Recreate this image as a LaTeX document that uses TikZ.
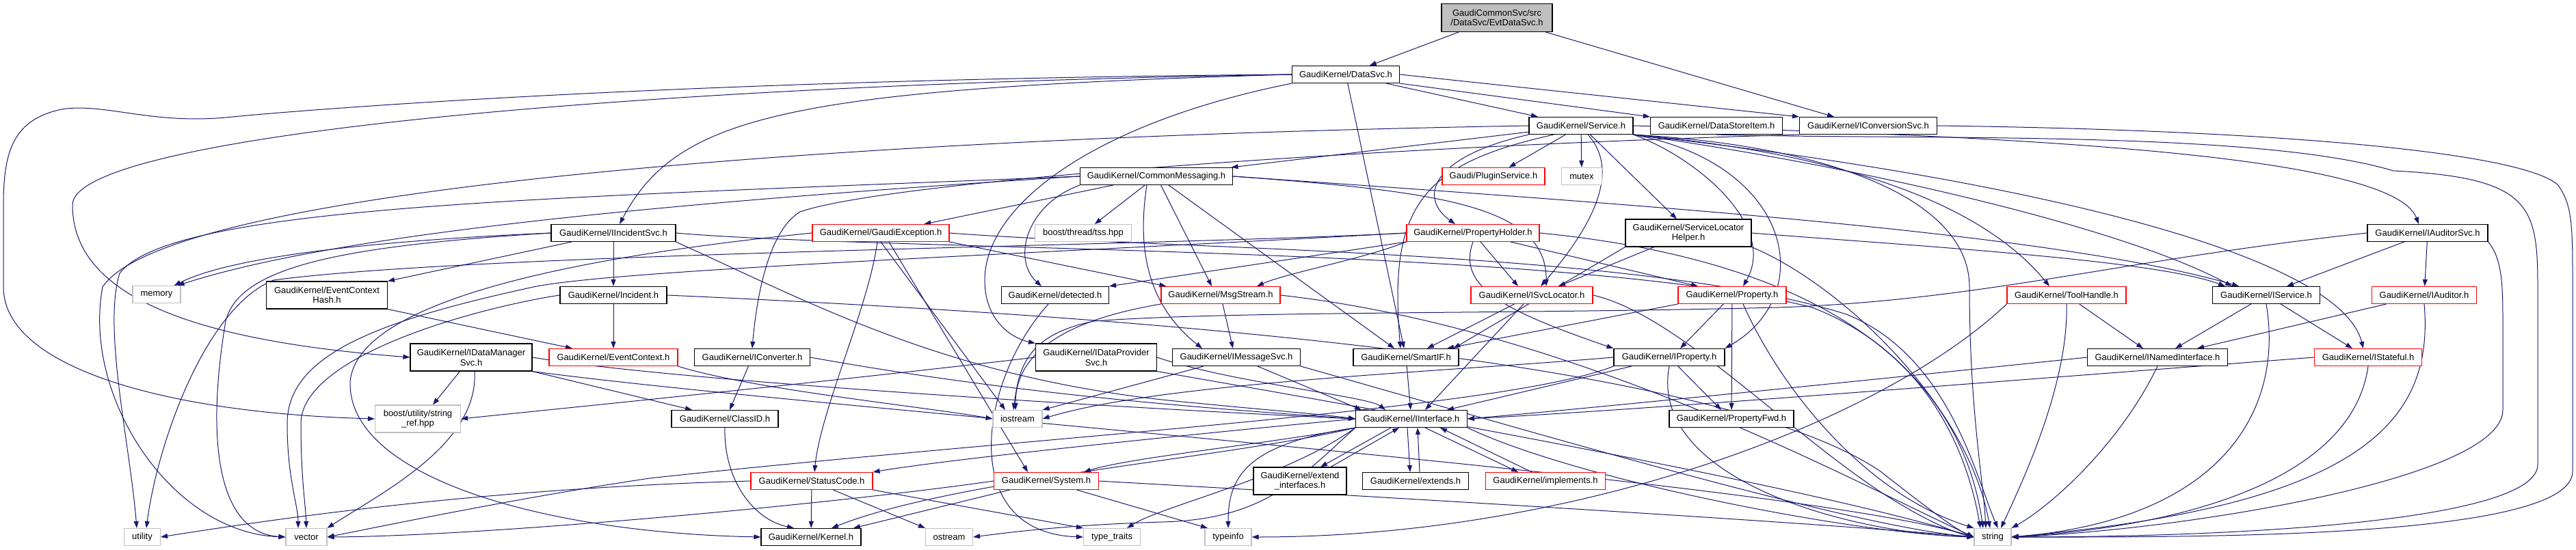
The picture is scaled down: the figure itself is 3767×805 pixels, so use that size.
\documentclass[tikz,border=0pt]{standalone}
\usepackage{fontspec}
\setmainfont{Liberation Sans}
\usetikzlibrary{arrows.meta}
\pgfdeclarelayer{bg}
\pgfsetlayers{bg,main}
\definecolor{edgec}{HTML}{191970}
\definecolor{grayb}{HTML}{BFBFBF}
\definecolor{redb}{HTML}{FF0000}
\begin{document}
\begin{tikzpicture}[x=1pt,y=-1pt,
 box/.style={draw=black, line width=1.1pt, fill=white, inner xsep=3pt, inner ysep=2pt, minimum height=25pt, align=center, font=\fontsize{13}{14.7}\selectfont},
 rbox/.style={box, draw=redb},
 gbox/.style={box, draw=grayb},
 tall/.style={minimum height=40pt},
 lnk/.style={draw=edgec, line width=1pt, -{Triangle[length=10pt,width=7pt]}},
]
\useasboundingbox (0,0) rectangle (3767,805);
% nodes
\node[box, fill=grayb, minimum width=162pt, minimum height=41pt] (evt) at (2189,26) {GaudiCommonSvc/src\\/DataSvc/EvtDataSvc.h};
\node[box, minimum width=157pt] (datasvc) at (1968,109) {GaudiKernel/DataSvc.h};
\node[box, minimum width=152pt] (service) at (2312,184) {GaudiKernel/Service.h};
\node[box, minimum width=193pt] (dsi) at (2510,184) {GaudiKernel/DataStoreItem.h};
\node[box, minimum width=201pt] (iconvsvc) at (2732,184) {GaudiKernel/IConversionSvc.h};
\node[box, minimum width=223pt] (commsg) at (1691,258) {GaudiKernel/CommonMessaging.h};
\node[rbox, minimum width=150pt] (plugin) at (2184,258) {Gaudi/PluginService.h};
\node[gbox, minimum width=59pt] (mutex) at (2313,258) {mutex};
\node[box, minimum width=182pt] (iincsvc) at (897,341) {GaudiKernel/IIncidentSvc.h};
\node[rbox, minimum width=200pt] (gexc) at (1288,341) {GaudiKernel/GaudiException.h};
\node[gbox, minimum width=141pt] (tss) at (1584,341) {boost/thread/tss.hpp};
\node[rbox, minimum width=194pt] (pholder) at (2154,341) {GaudiKernel/PropertyHolder.h};
\node[box, tall, minimum width=184pt] (slh) at (2469,341) {GaudiKernel/ServiceLocator\\Helper.h};
\node[box, minimum width=176pt] (iaudsvc) at (3550,341) {GaudiKernel/IAuditorSvc.h};
\node[gbox, minimum width=70pt] (memory) at (229,431) {memory};
\node[box, tall, minimum width=177pt] (ech) at (478,432) {GaudiKernel/EventContext\\Hash.h};
\node[box, minimum width=156pt] (incident) at (897,432) {GaudiKernel/Incident.h};
\node[box, minimum width=157pt] (detected) at (1543,432) {GaudiKernel/detected.h};
\node[rbox, minimum width=174pt] (msgstream) at (1785,432) {GaudiKernel/MsgStream.h};
\node[rbox, minimum width=178pt] (isvcloc) at (2240,432) {GaudiKernel/ISvcLocator.h};
\node[rbox, minimum width=158pt] (property) at (2533,432) {GaudiKernel/Property.h};
\node[rbox, minimum width=174pt] (toolhandle) at (3022,432) {GaudiKernel/ToolHandle.h};
\node[box, minimum width=157pt] (iservice) at (3314,432) {GaudiKernel/IService.h};
\node[rbox, minimum width=153pt] (iauditor) at (3545,432) {GaudiKernel/IAuditor.h};
\node[box, tall, minimum width=178pt] (idms) at (689,523) {GaudiKernel/IDataManager\\Svc.h};
\node[rbox, minimum width=188pt] (evctx) at (897,523) {GaudiKernel/EventContext.h};
\node[box, minimum width=169pt] (iconv) at (1100,523) {GaudiKernel/IConverter.h};
\node[box, tall, minimum width=177pt] (idps) at (1603,523) {GaudiKernel/IDataProvider\\Svc.h};
\node[box, minimum width=187pt] (imsgsvc) at (1808,523) {GaudiKernel/IMessageSvc.h};
\node[box, minimum width=154pt] (smartif) at (2056,523) {GaudiKernel/SmartIF.h};
\node[box, minimum width=162pt] (iproperty) at (2441,523) {GaudiKernel/IProperty.h};
\node[box, minimum width=205pt] (inamed) at (3155,523) {GaudiKernel/INamedInterface.h};
\node[rbox, minimum width=157pt] (istateful) at (3463,523) {GaudiKernel/IStateful.h};
\node[gbox, tall, minimum width=125pt] (stringref) at (611,613) {boost/utility/string\\\_ref.hpp};
\node[box, minimum width=156pt] (classid) at (1060,613) {GaudiKernel/ClassID.h};
\node[gbox, minimum width=72pt] (iostream) at (1488,613) {iostream};
\node[box, minimum width=163pt] (iinterface) at (2064,613) {GaudiKernel/IInterface.h};
\node[box, minimum width=182pt] (propfwd) at (2532,613) {GaudiKernel/PropertyFwd.h};
\node[rbox, minimum width=178pt] (statuscode) at (1187,704) {GaudiKernel/StatusCode.h};
\node[rbox, minimum width=153pt] (system) at (1530,704) {GaudiKernel/System.h};
\node[box, tall, minimum width=136pt] (extif) at (1901,704) {GaudiKernel/extend\\\_interfaces.h};
\node[box, minimum width=155pt] (extends) at (2070,704) {GaudiKernel/extends.h};
\node[rbox, minimum width=175pt] (implements) at (2260,704) {GaudiKernel/implements.h};
\node[gbox, minimum width=53pt] (utility) at (208,786) {utility};
\node[gbox, minimum width=60pt] (vector) at (448,786) {vector};
\node[box, minimum width=146pt] (kernel) at (1186,786) {GaudiKernel/Kernel.h};
\node[gbox, minimum width=69pt] (ostream) at (1388,786) {ostream};
\node[gbox, minimum width=83pt] (typetraits) at (1626,786) {type\_traits};
\node[gbox, minimum width=68pt] (typeinfo) at (1796,786) {typeinfo};
\node[gbox, minimum width=54pt] (string) at (2914,786) {string};
\begin{pgfonlayer}{bg}
\fill[white] (0,0) rectangle (3767,805);
% EvtDataSvc
\draw[lnk] (evt) -- (datasvc);
\draw[lnk] (evt) -- ([xshift=-50pt]iconvsvc.north);
% DataSvc
\draw[lnk] (datasvc) -- ([xshift=-63pt]service.north);
\draw[lnk] (datasvc.south east) -- (dsi.north west);
\draw[lnk] (datasvc.east) -- (iconvsvc.north west);
\draw[lnk] (datasvc) -- (smartif);
\draw[lnk] (datasvc.south west) .. controls (1600,180) and (1440,300) .. (1440,410) .. controls (1440,470) and (1480,495) .. (idps.north west);
\draw[lnk] (datasvc.west) .. controls (1150,130) and (990,170) .. ([xshift=9pt]iincsvc.north);
\draw[lnk] (datasvc.west) .. controls (900,125) and (106,200) .. (106,300) .. controls (106,440) and (300,500) .. (idms.west);
\draw[lnk] (datasvc.west) .. controls (1000,116) and (450,160) .. (330,172) .. controls (220,182) and (150,150) .. (90,160) .. controls (20,175) and (5,220) .. (5,300) -- (5,420) .. controls (5,540) and (250,605) .. (stringref.west);
% Service
\draw[lnk] (service) -- (commsg);
\draw[lnk] (service) -- (plugin);
\draw[lnk] (service) -- (mutex);
\draw[lnk] (service.south west) .. controls (2090,230) and (2075,290) .. ([xshift=-26pt]pholder.north);
\draw[lnk] (service) -- ([xshift=-17pt]slh.north);
\draw[lnk] ([xshift=10pt]service.south) .. controls (2370,250) and (2330,330) .. ([xshift=13pt]isvcloc.north);
\draw[lnk] (service.south east) .. controls (2480,230) and (2600,330) .. ([xshift=16pt]property.north);
\draw[lnk] (service.south east) .. controls (2620,240) and (2660,430) .. (iproperty.north east);
\draw[lnk] (service.south east) .. controls (2700,225) and (2900,300) .. ([xshift=-25pt]toolhandle.north);
\draw[lnk] (service.south east) .. controls (2700,240) and (3100,330) .. ([xshift=-50pt]iservice.north);
\draw[lnk] (service.south east) .. controls (2950,260) and (3420,370) .. ([xshift=-7pt]istateful.north);
\draw[lnk] (service.east) .. controls (3000,200) and (3500,230) .. ([xshift=-13pt]iaudsvc.north);
\draw[lnk] ([xshift=-40pt]service.south) .. controls (2080,240) and (2030,300) .. ([xshift=-8pt]smartif.north);
\draw[lnk] (service.west) .. controls (1300,200) and (250,270) .. (150,420) .. controls (120,580) and (250,780) .. (vector.west);
\draw[lnk] (service.south east) .. controls (2700,215) and (2880,300) .. (2880,420) .. controls (2880,600) and (2900,700) .. ([xshift=-10pt]string.north);
% DataStoreItem, IConversionSvc
\draw[lnk] (dsi.south) .. controls (2800,205) and (3300,190) .. (3500,250) .. controls (3700,260) and (3711,300) .. (3711,420) -- (3711,680) .. controls (3711,760) and (3300,786) .. (string.east);
\draw[lnk] (iconvsvc.east) .. controls (3300,190) and (3680,220) .. (3740,270) .. controls (3762,300) and (3762,330) .. (3762,420) -- (3762,690) .. controls (3762,790) and (3200,786) .. (string.east);
\draw[lnk] (iconvsvc.south west) .. controls (2000,215) and (1300,265) .. (1170,310) .. controls (1120,340) and (1105,450) .. (iconv.north);
% CommonMessaging
\draw[lnk] (commsg) -- (gexc);
\draw[lnk] (commsg) -- (tss);
\draw[lnk] (commsg.south west) .. controls (1500,300) and (1480,380) .. ([xshift=-20pt]detected.north);
\draw[lnk] (commsg) -- ([xshift=-13pt]msgstream.north);
\draw[lnk] (commsg) -- ([xshift=-17pt]smartif.north);
\draw[lnk] ([xshift=-14pt]commsg.south) .. controls (1665,350) and (1670,440) .. ([xshift=-50pt]imsgsvc.north);
\draw[lnk] (commsg.east) .. controls (2100,280) and (2262,300) .. ([xshift=21pt]isvcloc.north);
\draw[lnk] (commsg.east) .. controls (2400,300) and (3000,340) .. ([xshift=-40pt]iservice.north);
\draw[lnk] (commsg.west) .. controls (1000,295) and (500,340) .. ([xshift=-5pt]memory.north east);
\draw[lnk] (commsg.west) .. controls (800,290) and (250,300) .. (175,400) .. controls (150,480) and (190,650) .. ([xshift=-8pt]utility.north);
% IIncidentSvc
\draw[lnk] (iincsvc) -- (ech.north east);
\draw[lnk] (iincsvc) -- (incident);
\draw[lnk] (iincsvc.west) .. controls (600,350) and (350,370) .. ([xshift=-10pt]memory.north east);
\draw[lnk] (iincsvc.west) .. controls (500,360) and (350,390) .. (330,470) .. controls (300,650) and (320,780) .. (vector.west);
\draw[lnk] (iincsvc.south east) .. controls (1200,450) and (1400,560) .. (1750,590) .. controls (1850,600) and (1930,606) .. (iinterface.west);
\draw[lnk] (iincsvc.east) .. controls (1300,368) and (2300,360) .. (2650,450) .. controls (2830,520) and (2880,680) .. ([xshift=-18pt]string.north);
% GaudiException
\draw[lnk] (gexc.south east) -- ([xshift=8pt]msgstream.north west);
\draw[lnk] ([xshift=-5pt]gexc.south) .. controls (1270,450) and (1200,600) .. ([xshift=4pt]statuscode.north);
\draw[lnk] (gexc.south) -- ([xshift=-18pt]iostream.north);
\draw[lnk] ([xshift=12pt]gexc.south) -- ([xshift=-27pt]system.north);
\draw[lnk] (gexc.east) .. controls (1700,365) and (2400,365) .. (2700,460) .. controls (2850,520) and (2890,700) .. ([xshift=-20pt]string.north east);
\draw[lnk] (gexc.west) .. controls (900,370) and (520,430) .. (512,560) .. controls (510,700) and (800,780) .. (kernel.west);
% PropertyHolder
\draw[lnk] (pholder.south west) -- (detected.north east);
\draw[lnk] (pholder) -- ([xshift=-20pt]isvcloc.north);
\draw[lnk] (pholder) -- ([xshift=-50pt]property.north);
\draw[lnk] (pholder.south) .. controls (2130,420) and (2200,455) .. (iproperty.north west);
\draw[lnk] (pholder.south west) .. controls (1990,380) and (1880,400) .. ([xshift=53pt]msgstream.north);
\draw[lnk] (pholder.west) .. controls (1700,360) and (700,370) .. (400,410) .. controls (300,450) and (230,650) .. ([xshift=6pt]utility.north);
\draw[lnk] (pholder.west) .. controls (1500,372) and (900,395) .. (780,420) .. controls (550,470) and (420,520) .. (420,620) .. controls (420,700) and (436,740) .. ([xshift=-12pt]vector.north);
\draw[lnk] (pholder.east) .. controls (2600,375) and (2860,500) .. ([xshift=-14pt]string.north);
% ServiceLocatorHelper
\draw[lnk] (slh) -- ([xshift=39pt]isvcloc.north);
\draw[lnk] (slh.south west) -- ([xshift=-8pt]smartif.north east);
\draw[lnk] (slh.east) .. controls (2800,360) and (3150,380) .. ([xshift=-60pt]iservice.north);
\draw[lnk] (slh.south east) .. controls (2700,420) and (2880,600) .. ([xshift=-4pt]string.north);
% ISvcLocator
\draw[lnk] (isvcloc) -- ([xshift=31pt]smartif.north);
\draw[lnk] (isvcloc) -- ([xshift=20pt]iinterface.north);
\draw[lnk] (isvcloc.east) .. controls (2450,460) and (2600,620) .. (2750,720) .. controls (2820,765) and (2860,780) .. (string.west);
% Property
\draw[lnk] (property) -- ([xshift=16pt]iproperty.north);
\draw[lnk] (property) -- (propfwd);
\draw[lnk] (property.south west) -- ([xshift=60pt]smartif.north);
\draw[lnk] ([xshift=16pt]property.south) .. controls (2600,560) and (2720,720) .. (string.north west);
% ToolHandle
\draw[lnk] (toolhandle) -- ([xshift=-21pt]inamed.north);
\draw[lnk] (toolhandle.south) .. controls (3025,560) and (2960,700) .. ([xshift=12pt]string.north);
\draw[lnk] (toolhandle.south west) .. controls (2750,620) and (2300,786) .. (typeinfo.east);
% IService
\draw[lnk] (iservice) -- ([xshift=26pt]inamed.north);
\draw[lnk] (iservice) -- ([xshift=-23pt]istateful.north);
\draw[lnk] (iservice.south) .. controls (3340,600) and (3250,760) .. (string.east);
% IAuditorSvc
\draw[lnk] (iaudsvc) -- (iauditor);
\draw[lnk] (iaudsvc) -- ([xshift=30pt]iservice.north);
\draw[lnk] (iaudsvc.south east) .. controls (3660,380) and (3660,420) .. (3660,480) -- (3660,600) .. controls (3660,700) and (3200,775) .. (string.east);
\draw[lnk] (iaudsvc.west) .. controls (3100,380) and (2900,440) .. (2600,450) .. controls (2200,460) and (1800,455) .. (1600,470) .. controls (1500,490) and (1490,540) .. ([xshift=-6pt]iostream.north);
% IAuditor
\draw[lnk] (iauditor) -- ([xshift=58pt]inamed.north);
\draw[lnk] (iauditor.south) .. controls (3560,620) and (3450,740) .. (string.east);
% INamedInterface, IStateful
\draw[lnk] (inamed.west) .. controls (2700,560) and (2300,600) .. (iinterface.east);
\draw[lnk] (inamed.south) .. controls (3100,650) and (3000,740) .. (string.north east);
\draw[lnk] (istateful.west) .. controls (2900,560) and (2400,600) .. (iinterface.east);
\draw[lnk] (istateful.south) .. controls (3440,700) and (3200,770) .. (string.east);
% IProperty
\draw[lnk] (iproperty) -- ([xshift=52pt]iinterface.north);
\draw[lnk] (iproperty) -- ([xshift=-15pt]propfwd.north);
\draw[lnk] (iproperty.south) .. controls (2410,700) and (2700,780) .. (string.west);
\draw[lnk] (iproperty.west) .. controls (2100,545) and (1700,560) .. (iostream.east);
\draw[lnk] (iproperty.south west) .. controls (2200,600) and (1500,640) .. (950,700) .. controls (750,730) and (560,770) .. (vector.east);
% MsgStream
\draw[lnk] (msgstream) -- ([xshift=-5pt]imsgsvc.north);
\draw[lnk] (msgstream.south west) .. controls (1550,470) and (1485,520) .. ([xshift=-3pt]iostream.north);
\draw[lnk] (msgstream.east) .. controls (2300,480) and (2700,700) .. (string.west);
% IMessageSvc
\draw[lnk] (imsgsvc) -- ([xshift=-73pt]iinterface.north);
\draw[lnk] (imsgsvc) -- (iostream.north east);
\draw[lnk] (imsgsvc.south east) .. controls (2200,620) and (2700,770) .. (string.west);
% detected, SmartIF
\draw[lnk] ([xshift=-10pt]detected.south) .. controls (1430,560) and (1400,780) .. (typetraits.west);
\draw[lnk] (smartif) -- (iinterface);
% IDataProviderSvc
\draw[lnk] (idps.west) .. controls (1200,560) and (800,600) .. (stringref.east);
\draw[lnk] (idps.east) .. controls (1800,560) and (2000,580) .. ([xshift=-38pt]iinterface.north);
\draw[lnk] (idps.south east) .. controls (1900,580) and (2600,700) .. (string.west);
% IDataManagerSvc
\draw[lnk] (idms) -- ([xshift=22pt]stringref.north);
\draw[lnk] ([xshift=5pt]idms.south) .. controls (700,650) and (560,720) .. (vector.north east);
\draw[lnk] (idms.south east) -- ([xshift=-48pt]classid.north);
\draw[lnk] (idms.east) .. controls (1000,560) and (1700,600) .. (iinterface.west);
\draw[lnk] (idms.south east) .. controls (1200,600) and (2600,700) .. (string.west);
% IConverter
\draw[lnk] (iconv) -- ([xshift=7pt]classid.north);
\draw[lnk] (iconv.east) .. controls (1500,580) and (1800,600) .. (iinterface.west);
% events
\draw[lnk] (ech.south east) -- ([xshift=-60pt]evctx.north);
\draw[lnk] (incident) -- (evctx);
\draw[lnk] (incident.west) .. controls (700,450) and (440,520) .. (440,620) .. controls (440,700) and (447,740) .. (vector.north);
\draw[lnk] (incident.east) .. controls (1600,460) and (2500,520) .. (2750,690) .. controls (2820,745) and (2860,775) .. (string.west);
\draw[lnk] (evctx.south east) .. controls (1100,570) and (1350,595) .. (iostream.west);
% ClassID
\draw[lnk] (classid.south) .. controls (1058,700) and (1100,760) .. ([xshift=-25pt]kernel.north);
% StatusCode
\draw[lnk] (statuscode) -- (kernel);
\draw[lnk] (statuscode) -- (ostream.north west);
\draw[lnk] (statuscode.south east) -- (typetraits.north west);
\draw[lnk] (statuscode.west) .. controls (700,715) and (400,760) .. (utility.east);
% System
\draw[lnk] (system) -- ([xshift=62pt]kernel.north);
\draw[lnk] (system) -- ([xshift=-30pt]typeinfo.north);
\draw[lnk] (system.east) .. controls (1800,715) and (2600,760) .. (string.west);
\draw[lnk] (system.west) .. controls (1200,740) and (700,785) .. (vector.east);
% IInterface
\draw[lnk] (iinterface.south west) .. controls (1800,670) and (1400,700) .. ([xshift=30pt]kernel.north);
\draw[lnk] (iinterface.west) .. controls (1800,630) and (1400,670) .. (statuscode.north east);
\draw[lnk] (iinterface.south west) .. controls (1850,650) and (1650,670) .. ([xshift=55pt]system.north);
\draw[lnk] (iinterface.south west) .. controls (1900,700) and (1850,760) .. (1700,764) .. controls (1560,768) and (1470,780) .. (ostream.east);
\draw[lnk] (iinterface.south west) .. controls (1880,700) and (1700,740) .. ([xshift=22pt]typetraits.north);
\draw[lnk] (iinterface.south west) .. controls (1820,650) and (1796,700) .. (typeinfo.north);
\draw[lnk] (iinterface.south east) .. controls (2300,700) and (2700,780) .. (string.west);
\draw[lnk] ([xshift=-30pt]iinterface.south) -- ([xshift=30pt]extif.north);
\draw[lnk] ([xshift=45pt]extif.north) -- ([xshift=-18pt]iinterface.south);
\draw[lnk] ([xshift=-6pt]iinterface.south) -- ([xshift=-8pt]extends.north);
\draw[lnk] ([xshift=6pt]extends.north) -- ([xshift=9pt]iinterface.south);
\draw[lnk] ([xshift=20pt]iinterface.south) -- ([xshift=-40pt]implements.north);
\draw[lnk] ([xshift=-20pt]implements.north) -- ([xshift=42pt]iinterface.south);
\end{pgfonlayer}
\end{tikzpicture}
\end{document}
